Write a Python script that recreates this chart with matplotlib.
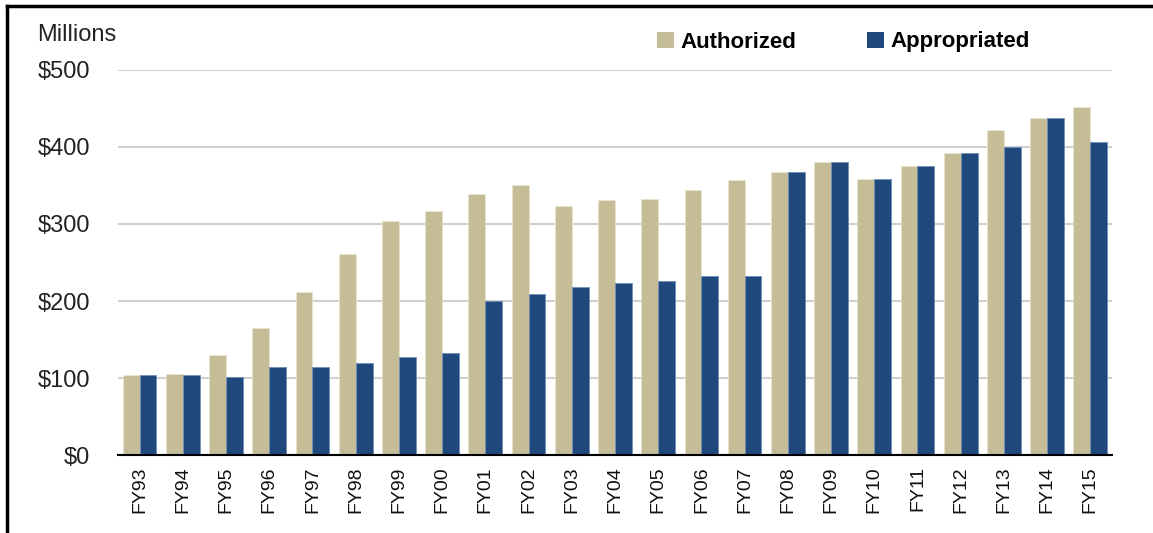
import numpy as np
import matplotlib
matplotlib.use("Agg")
import matplotlib.pyplot as plt
from matplotlib.lines import Line2D
from matplotlib.patches import Patch

# data ($ millions)
years = ["FY93", "FY94", "FY95", "FY96", "FY97", "FY98", "FY99", "FY00", "FY01", "FY02",
         "FY03", "FY04", "FY05", "FY06", "FY07", "FY08", "FY09", "FY10", "FY11", "FY12",
         "FY13", "FY14", "FY15"]
authorized = [104, 105, 130, 165, 212, 261, 304, 317, 339, 350,
              324, 331, 332, 344, 357, 367, 381, 358, 375, 392,
              422, 437, 452]
appropriated = [104, 104, 101, 114, 114, 119, 127, 133, 200, 209,
                218, 224, 226, 233, 233, 367, 381, 358, 375, 392,
                400, 437, 406]

tan = "#C4BD97"
navy = "#1F497D"

plt.rcParams['font.family'] = ['Liberation Sans', 'DejaVu Sans']

fig = plt.figure(figsize=(11.53, 5.33), dpi=100)
ax = fig.add_axes([0.1023, 0.1463, 0.8621, 0.7224])

x = np.arange(len(years))
w = 0.39
ax.bar(x - w / 2, authorized, w, color=tan, edgecolor="#E8E4D0", linewidth=0.6, zorder=3)
ax.bar(x + w / 2, appropriated, w, color=navy, edgecolor="#6F8FB5", linewidth=0.6, zorder=3)

ax.set_xlim(-0.5, len(years) - 0.5)
ax.set_ylim(0, 500)
ax.set_yticks(range(0, 501, 100))
ax.set_yticklabels(["$%d" % v for v in range(0, 501, 100)], fontsize=17, color="#222222")
ax.set_xticks(x)
ax.set_xticklabels(years, rotation=90, fontsize=14, color="#111111")
ax.tick_params(axis="both", length=0)
ax.tick_params(axis="y", pad=20)
ax.tick_params(axis="x", pad=8)

ax.grid(axis="y", color="#D0D0D0", linewidth=1.5, zorder=0)
for s in ["top", "right", "left"]:
    ax.spines[s].set_visible(False)
ax.spines["bottom"].set_color("black")
ax.spines["bottom"].set_linewidth(1.5)
ax.spines["bottom"].set_zorder(4)

fig.text(37 / 1153, 1 - 35 / 533, "Millions", fontsize=17, va="center", ha="left", color="#222222")

handles = [Patch(facecolor=tan, edgecolor="none"), Patch(facecolor=navy, edgecolor="none")]
fig.legend(handles, ["Authorized", "Appropriated"], ncol=2, frameon=False,
           loc="center left", bbox_to_anchor=(657 / 1153, 1 - 42 / 533),
           prop={"weight": "bold", "size": 16}, handlelength=0.75, handleheight=0.75,
           handletextpad=0.3, columnspacing=3.2, borderaxespad=0, borderpad=0)

# outer frame (left and top only)
fig.add_artist(Line2D([7 / 1153, 7 / 1153], [0, 1 - 6 / 533], color="black", linewidth=2.5,
                      transform=fig.transFigure))
fig.add_artist(Line2D([7 / 1153, 1], [1 - 6 / 533, 1 - 6 / 533], color="black", linewidth=2.5,
                      transform=fig.transFigure))

fig.savefig("out.png", dpi=100)
